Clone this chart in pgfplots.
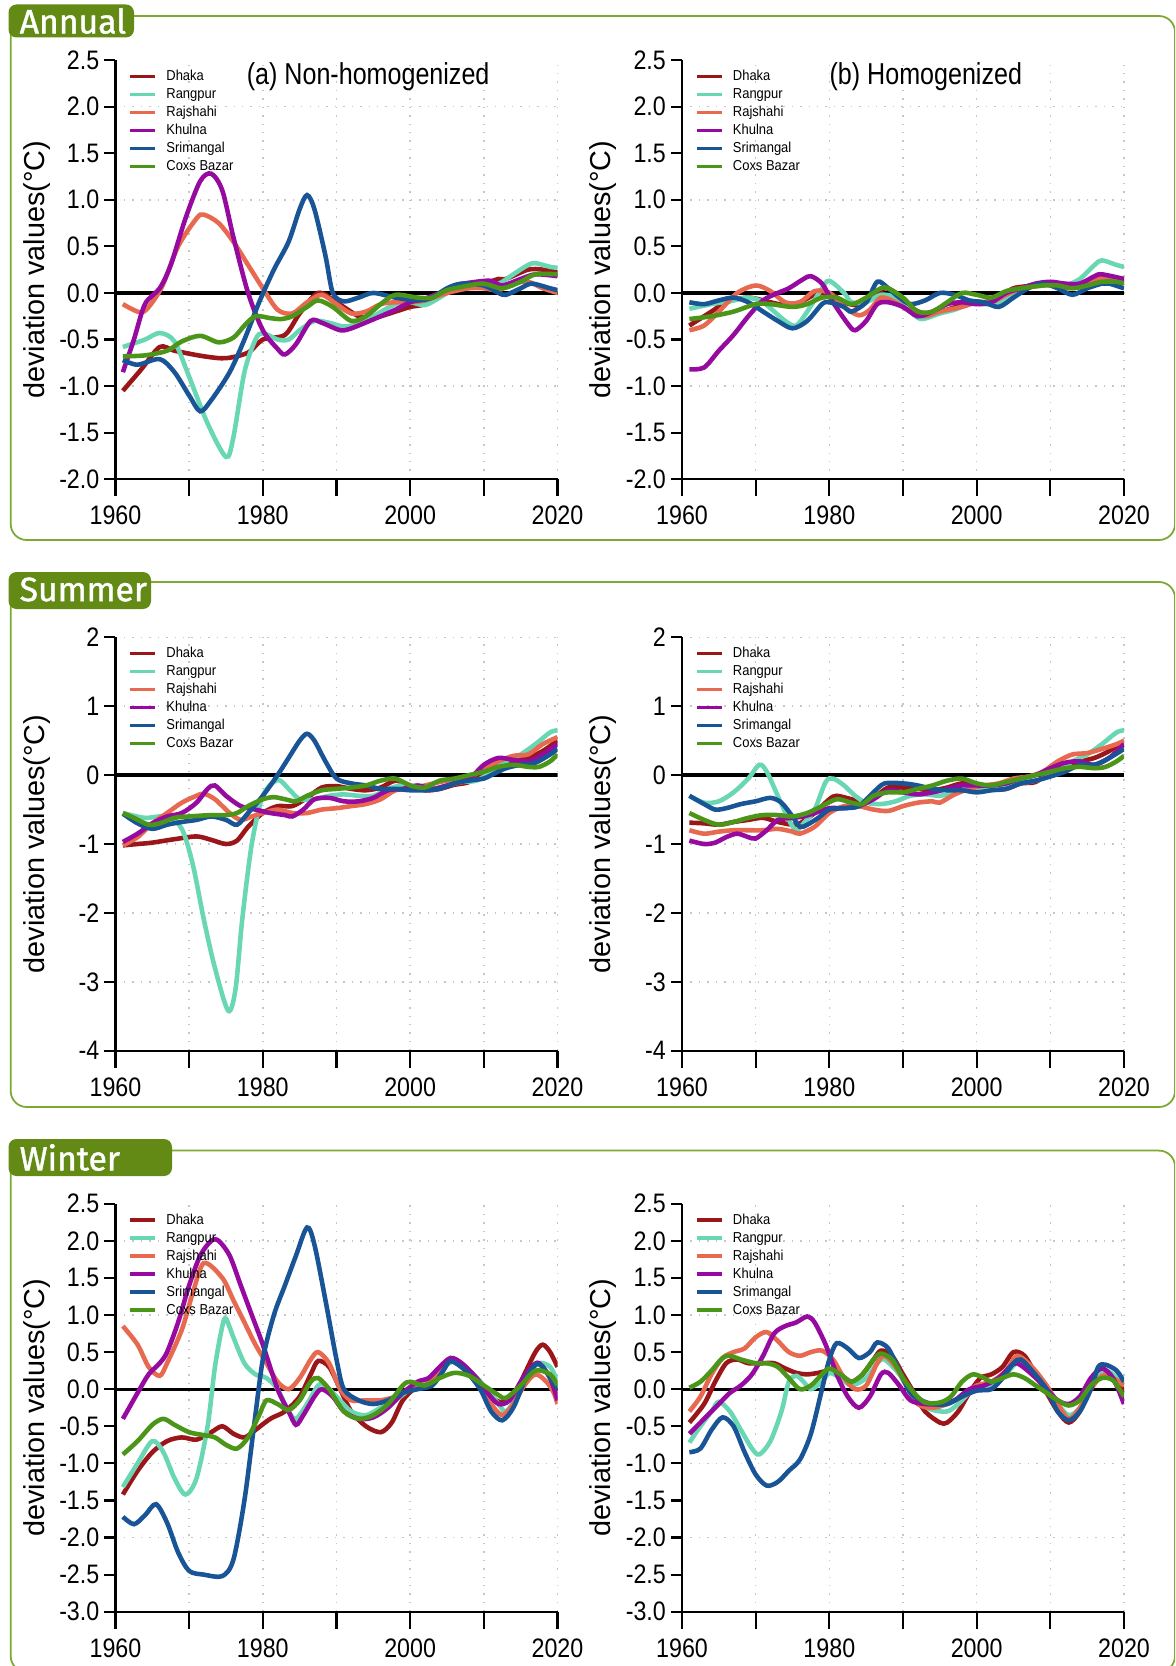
\documentclass[border=0pt]{standalone}
\usepackage{fontspec}
\setmainfont{Liberation Sans}
\newfontfamily\nar[FakeStretch=0.87]{Liberation Sans}
\newfontfamily\ttl[FakeStretch=0.83]{Liberation Sans}
\newfontfamily\leg[FakeStretch=0.9]{Liberation Sans}
\newfontfamily\tabfont[FakeBold=1.3]{Fira Sans}
\usepackage{pgfplots}
\pgfplotsset{compat=1.18}

\definecolor{dhaka}{RGB}{155,22,25}
\definecolor{rangpur}{RGB}{105,215,180}
\definecolor{rajshahi}{RGB}{230,105,80}
\definecolor{khulna}{RGB}{150,10,160}
\definecolor{srimangal}{RGB}{25,85,150}
\definecolor{coxs}{RGB}{75,150,25}
\definecolor{tabgreen}{RGB}{98,138,20}
\definecolor{framegreen}{RGB}{125,168,50}

\pgfplotsset{
  panel/.style={
    scale only axis, width=44.2mm,
    xmin=1960, xmax=2020,
    axis lines=left, axis line style={-, line width=0.6pt},
    tick align=outside, tick style={black, line width=0.6pt},
    xtick={1960,1970,...,2020}, xticklabels={1960,,1980,,2000,,2020},
    xtick style={/pgfplots/major tick length=1.7mm},
    ytick style={/pgfplots/major tick length=1.1mm},
    minor tick length=0pt,
    xmajorgrids,
    grid style={gray!45, dotted, line width=0.45pt},
    tick label style={font={\nar\fontsize{7.6}{8}\selectfont}},
    xticklabel style={inner sep=1.1mm},
    yticklabel style={inner sep=0.05mm},
    ylabel={deviation values(°C)},
    every axis y label/.style={at={(axis description cs:-0.178,0.5)}, rotate=90, anchor=center, font={\fontsize{8.2}{9}\selectfont}},
    legend style={at={(axis description cs:0.03,0.982)}, anchor=north west, draw=none, fill=none,
      inner sep=0pt, outer sep=0pt, row sep=0pt, font={\leg\fontsize{4.1}{4.5}\selectfont},
      nodes={inner sep=0.25mm, text height=1.05mm, text depth=0.25mm},
      /tikz/every odd column/.style={column sep=0.7mm}},
    legend cell align=left,
    legend image code/.code={\draw[#1, line width=0.9pt] (0mm,0mm) -- (2.5mm,0mm);},
    legend entries={Dhaka,Rangpur,Rajshahi,Khulna,Srimangal,Coxs Bazar},
    every axis plot/.append style={line width=1.3pt, smooth, mark=none},
  },
  pA/.style={panel, height=41.93mm, ymin=-2, ymax=2.5, ytick={-2,-1.5,...,2.5},
    yticklabels={-2.0,-1.5,-1.0,-0.5,0.0,0.5,1.0,1.5,2.0,2.5},
    minor ytick={-1,1,2}, yminorgrids},
  pS/.style={panel, height=41.34mm, ymin=-4, ymax=2, ytick={-4,-3,...,2},
    yticklabels={-4,-3,-2,-1,0,1,2}, ymajorgrids},
  pW/.style={panel, height=40.8mm, ymin=-3, ymax=2.5, ytick={-3,-2.5,...,2.5},
    yticklabels={-3.0,-2.5,-2.0,-1.5,-1.0,-0.5,0.0,0.5,1.0,1.5,2.0,2.5},
    minor ytick={-2,-1,1,2}, yminorgrids},
  zero/.style={black, line width=0.95pt, sharp plot, forget plot},
}

\begin{document}
\begin{tikzpicture}
\useasboundingbox (0,0) rectangle (117.5mm,-166.6mm);
\clip (0,0) rectangle (117.5mm,-166.6mm);

% section frames and tabs
\draw[framegreen, line width=0.5pt, rounded corners=1.6mm] (1.07mm,-1.6mm) rectangle (117.5mm,-54.0mm);
\draw[framegreen, line width=0.5pt, rounded corners=1.6mm] (1.07mm,-58.2mm) rectangle (117.5mm,-110.7mm);
\draw[framegreen, line width=0.5pt, rounded corners=1.6mm] (1.07mm,-115.06mm) rectangle (117.5mm,-167.2mm);
\fill[tabgreen, rounded corners=0.8mm] (0.85mm,-0.45mm) rectangle (13.4mm,-3.75mm);
\fill[tabgreen, rounded corners=0.8mm] (0.85mm,-57.2mm) rectangle (15.1mm,-60.9mm);
\fill[tabgreen, rounded corners=0.8mm] (0.85mm,-113.9mm) rectangle (17.2mm,-117.6mm);
\begin{scope}[every node/.style={anchor=west, inner sep=0pt, text=white, font={\tabfont\fontsize{9.6}{10}\selectfont}}]
\node at (1.9mm,-2.1mm) {Annual};
\node at (1.9mm,-58.95mm) {Summer};
\node at (1.9mm,-115.75mm) {Winter};
\end{scope}

% ---------------- Annual, non-homogenized
\begin{axis}[pA, at={(11.55mm,-47.93mm)}, anchor=south west]
\addplot[zero] coordinates {(1960,0)(2020,0)};
\addplot[dhaka] coordinates {(1961,-1.05)(1963.5,-0.82)(1966,-0.58)(1968,-0.62)(1972,-0.68)(1975,-0.70)(1978,-0.64)(1980,-0.5)(1983,-0.45)(1985,-0.22)(1987.5,0.0)(1990,-0.1)(1993,-0.25)(1995,-0.27)(1998,-0.2)(2000,-0.15)(2002,-0.12)(2005,0.0)(2007,0.06)(2010,0.1)(2012,0.15)(2013,0.15)(2016,0.25)(2018,0.25)(2020,0.22)};
\addplot[rangpur] coordinates {(1961,-0.58)(1964,-0.5)(1966,-0.43)(1968,-0.52)(1970,-0.9)(1972.5,-1.4)(1975,-1.76)(1976,-1.55)(1977.5,-0.85)(1979,-0.5)(1980,-0.43)(1982,-0.5)(1983.5,-0.5)(1985,-0.4)(1987,-0.3)(1989,-0.32)(1991,-0.36)(1993,-0.33)(1995,-0.25)(1998,-0.12)(2000,-0.1)(2002,-0.13)(2004,-0.05)(2006,0.05)(2008,0.1)(2010,0.1)(2012,0.1)(2014,0.2)(2016,0.3)(2017,0.32)(2019,0.28)(2020,0.27)};
\addplot[rajshahi] coordinates {(1961,-0.12)(1963.5,-0.21)(1965,-0.1)(1966.5,0.1)(1968.5,0.5)(1971,0.8)(1972,0.84)(1974,0.75)(1976,0.55)(1978,0.3)(1980,0.05)(1982,-0.18)(1984,-0.22)(1986,-0.1)(1988,-0.02)(1990,-0.12)(1992,-0.22)(1994,-0.2)(1996,-0.12)(1998,-0.1)(2000,-0.1)(2002,-0.08)(2005,0.0)(2008,0.05)(2010,0.05)(2012,0.03)(2014,0.1)(2016,0.12)(2018,0.05)(2020,0.0)};
\addplot[khulna] coordinates {(1961,-0.85)(1962.5,-0.5)(1964,-0.12)(1966,0.05)(1967.5,0.3)(1969.5,0.8)(1971.5,1.2)(1973,1.28)(1974.5,1.1)(1976,0.6)(1978,0.0)(1980,-0.4)(1982,-0.6)(1983,-0.66)(1984.5,-0.55)(1986.5,-0.3)(1988,-0.32)(1990.5,-0.4)(1992,-0.38)(1994.5,-0.3)(1996,-0.25)(1998,-0.18)(2000,-0.1)(2002,-0.06)(2004,0.0)(2006,0.08)(2009,0.12)(2011,0.13)(2012.5,0.08)(2015,0.15)(2017,0.2)(2020,0.18)};
\addplot[srimangal] coordinates {(1961,-0.72)(1963,-0.77)(1966,-0.71)(1968,-0.85)(1970,-1.1)(1971.5,-1.27)(1973,-1.15)(1975.5,-0.85)(1977.5,-0.5)(1979.5,-0.1)(1981.5,0.25)(1983.5,0.55)(1985,0.9)(1986,1.05)(1987,0.9)(1988.5,0.4)(1989.5,0.0)(1991,-0.09)(1993,-0.05)(1995,0.0)(1998,-0.05)(2001,-0.08)(2003,-0.05)(2005,0.05)(2007,0.1)(2010,0.08)(2012,0.0)(2013,-0.02)(2015,0.05)(2016.5,0.1)(2019,0.05)(2020,0.03)};
\addplot[coxs] coordinates {(1961,-0.68)(1964,-0.67)(1967,-0.62)(1969,-0.52)(1971.5,-0.46)(1974,-0.53)(1976,-0.48)(1977.5,-0.35)(1979,-0.25)(1981,-0.27)(1982.5,-0.28)(1984,-0.25)(1986,-0.15)(1987.5,-0.08)(1989.5,-0.15)(1992,-0.3)(1994,-0.25)(1996,-0.12)(1998,-0.02)(2001,-0.05)(2003,-0.05)(2005,0.03)(2008,0.08)(2010,0.1)(2012.5,0.05)(2015,0.12)(2017,0.2)(2020,0.2)};
\node[font={\ttl\fontsize{8.6}{9}\selectfont}, anchor=center] at (axis cs:1994.3,2.32) {(a) Non-homogenized};
\end{axis}

% ---------------- Annual, homogenized
\begin{axis}[pA, at={(68.2mm,-47.93mm)}, anchor=south west]
\addplot[zero] coordinates {(1960,0)(2020,0)};
\addplot[dhaka] coordinates {(1961,-0.35)(1964,-0.2)(1966,-0.1)(1969,-0.05)(1972,-0.1)(1974,-0.13)(1976,-0.1)(1978,-0.02)(1980,0.0)(1982,-0.1)(1984,-0.13)(1986,-0.05)(1987.5,0.05)(1989,0.0)(1991,-0.15)(1993,-0.22)(1996,-0.18)(1999,-0.1)(2001,-0.1)(2003,-0.05)(2005,0.05)(2008,0.08)(2010,0.1)(2012,0.05)(2014,0.1)(2016,0.15)(2018,0.15)(2020,0.12)};
\addplot[rangpur] coordinates {(1961,-0.17)(1964,-0.12)(1967,-0.08)(1969,-0.05)(1971,-0.1)(1974,-0.3)(1975.5,-0.35)(1977,-0.2)(1979,0.05)(1980,0.13)(1982,0.0)(1983,-0.1)(1985,-0.1)(1987,-0.02)(1989,-0.05)(1991,-0.2)(1992.5,-0.28)(1995,-0.22)(1997,-0.18)(1999,-0.12)(2001,-0.12)(2003,-0.12)(2005,0.0)(2008,0.1)(2010,0.1)(2012,0.08)(2014,0.15)(2016,0.3)(2017,0.35)(2019,0.3)(2020,0.28)};
\addplot[rajshahi] coordinates {(1961,-0.4)(1963,-0.35)(1965,-0.2)(1967.5,0.0)(1970,0.08)(1972,0.02)(1974,-0.1)(1976,-0.1)(1978,0.02)(1980,0.0)(1982,-0.15)(1984,-0.24)(1985.5,-0.18)(1987,-0.05)(1989,-0.1)(1991,-0.2)(1993,-0.25)(1995,-0.2)(1998,-0.15)(2000,-0.1)(2002,-0.1)(2004,-0.02)(2006,0.05)(2009,0.08)(2011,0.1)(2012.5,0.05)(2014,0.1)(2016,0.15)(2018,0.15)(2020,0.15)};
\addplot[khulna] coordinates {(1961,-0.82)(1963,-0.8)(1965,-0.62)(1967,-0.45)(1969,-0.25)(1971,-0.08)(1973,0.0)(1974.5,0.05)(1976.5,0.15)(1977.5,0.18)(1979,0.1)(1980.5,-0.1)(1982.5,-0.33)(1983.5,-0.4)(1985,-0.3)(1986.5,-0.12)(1988,-0.1)(1990,-0.15)(1992,-0.25)(1994,-0.2)(1996,-0.12)(1998,-0.1)(2000,-0.12)(2002,-0.1)(2004,0.0)(2006,0.05)(2008,0.1)(2010,0.12)(2012,0.1)(2014,0.1)(2016,0.18)(2017,0.2)(2020,0.15)};
\addplot[srimangal] coordinates {(1961,-0.1)(1963,-0.12)(1965,-0.08)(1967,-0.05)(1969,-0.1)(1971,-0.2)(1973,-0.3)(1975,-0.38)(1977,-0.3)(1979,-0.12)(1980,-0.1)(1982,-0.15)(1983,-0.2)(1985,-0.1)(1986.5,0.12)(1988,0.05)(1989.5,-0.05)(1991,-0.12)(1993,-0.08)(1995,0.0)(1997,-0.02)(1999,-0.08)(2001,-0.1)(2003,-0.15)(2005,-0.05)(2007,0.05)(2009,0.1)(2011,0.05)(2013,-0.02)(2015,0.05)(2017,0.1)(2018,0.1)(2020,0.05)};
\addplot[coxs] coordinates {(1961,-0.28)(1964,-0.25)(1967,-0.2)(1970,-0.12)(1972,-0.12)(1975,-0.15)(1977,-0.12)(1979,-0.05)(1981,-0.05)(1983,-0.12)(1985,-0.05)(1987,0.05)(1988,0.05)(1990,-0.05)(1992,-0.2)(1994,-0.2)(1996,-0.1)(1998,0.0)(2000,-0.02)(2002,-0.05)(2004,0.02)(2006,0.05)(2009,0.08)(2011,0.08)(2013,0.05)(2015,0.08)(2017,0.12)(2019,0.12)(2020,0.1)};
\node[font={\ttl\fontsize{8.6}{9}\selectfont}, anchor=center] at (axis cs:1993.1,2.32) {(b) Homogenized};
\end{axis}

% ---------------- Summer, non-homogenized
\begin{axis}[pS, at={(11.55mm,-105.07mm)}, anchor=south west]
\addplot[zero] coordinates {(1960,0)(2020,0)};
\addplot[dhaka] coordinates {(1961,-1.02)(1963,-1.0)(1965,-0.98)(1968,-0.93)(1971,-0.89)(1973,-0.94)(1975,-1.0)(1976.5,-0.95)(1978,-0.75)(1980,-0.55)(1982,-0.45)(1984,-0.45)(1986,-0.33)(1988,-0.18)(1990,-0.16)(1992,-0.2)(1994,-0.22)(1996,-0.18)(1998,-0.08)(2000,-0.15)(2002,-0.22)(2004,-0.2)(2006,-0.14)(2008,-0.1)(2010,0.05)(2012,0.15)(2014,0.2)(2016,0.25)(2018,0.35)(2020,0.5)};
\addplot[rangpur] coordinates {(1961,-0.55)(1964,-0.62)(1967,-0.6)(1969,-0.78)(1970.5,-1.3)(1972,-2.1)(1973.5,-2.8)(1975.3,-3.42)(1976.3,-3.1)(1977.2,-2.1)(1978.5,-1.0)(1980,-0.3)(1982,-0.07)(1983.5,-0.2)(1985,-0.35)(1987,-0.35)(1989,-0.3)(1991,-0.28)(1993,-0.3)(1995,-0.3)(1997,-0.2)(1999,-0.15)(2001,-0.2)(2003,-0.2)(2005,-0.15)(2007,-0.1)(2009,-0.08)(2011,0.05)(2013,0.2)(2015,0.3)(2017,0.45)(2019,0.62)(2020,0.65)};
\addplot[rajshahi] coordinates {(1961,-1.02)(1963,-0.9)(1965,-0.7)(1967,-0.55)(1969,-0.4)(1971,-0.3)(1972,-0.27)(1973.5,-0.35)(1975.5,-0.55)(1977,-0.65)(1978.5,-0.6)(1980,-0.55)(1982,-0.5)(1984,-0.55)(1986,-0.55)(1988,-0.5)(1990,-0.48)(1992,-0.45)(1994,-0.42)(1996,-0.35)(1998,-0.22)(2000,-0.2)(2002,-0.15)(2004,-0.1)(2006,-0.06)(2008,-0.04)(2010,0.1)(2012,0.2)(2014,0.28)(2016,0.3)(2018,0.45)(2020,0.55)};
\addplot[khulna] coordinates {(1961,-0.97)(1963,-0.85)(1965,-0.7)(1967,-0.6)(1969,-0.55)(1971,-0.4)(1972.5,-0.2)(1973.5,-0.15)(1975,-0.3)(1977,-0.45)(1979,-0.5)(1981,-0.55)(1983,-0.58)(1984,-0.6)(1985.5,-0.5)(1987,-0.35)(1989,-0.33)(1991,-0.38)(1993,-0.38)(1995,-0.33)(1997,-0.22)(1999,-0.2)(2001,-0.15)(2003,-0.2)(2005,-0.15)(2008,-0.05)(2010,0.15)(2012,0.25)(2014,0.22)(2016,0.2)(2018,0.3)(2020,0.45)};
\addplot[srimangal] coordinates {(1961,-0.56)(1963,-0.7)(1965,-0.78)(1967,-0.72)(1969,-0.68)(1971,-0.65)(1973,-0.6)(1975,-0.65)(1976.5,-0.72)(1978,-0.55)(1980,-0.3)(1982,0.0)(1983.5,0.25)(1985,0.5)(1986,0.6)(1987,0.5)(1988.5,0.2)(1990,-0.05)(1992,-0.12)(1994,-0.15)(1996,-0.2)(1998,-0.2)(2000,-0.22)(2002,-0.22)(2004,-0.2)(2006,-0.12)(2008,-0.08)(2010,-0.05)(2011,0.0)(2013,0.1)(2015,0.15)(2017,0.18)(2019,0.3)(2020,0.38)};
\addplot[coxs] coordinates {(1961,-0.55)(1962.5,-0.62)(1964.5,-0.72)(1966,-0.7)(1968,-0.62)(1970,-0.6)(1973,-0.58)(1975,-0.58)(1976.5,-0.55)(1978,-0.45)(1980,-0.35)(1981.5,-0.32)(1983,-0.35)(1984.5,-0.38)(1986,-0.3)(1988,-0.22)(1990,-0.2)(1992,-0.18)(1994,-0.15)(1996,-0.08)(1998,-0.05)(2000,-0.15)(2002,-0.18)(2004,-0.08)(2006,-0.05)(2008,0.0)(2010,0.05)(2012,0.12)(2014,0.15)(2016,0.12)(2017.5,0.12)(2019,0.2)(2020,0.3)};
\end{axis}

% ---------------- Summer, homogenized
\begin{axis}[pS, at={(68.2mm,-105.07mm)}, anchor=south west]
\addplot[zero] coordinates {(1960,0)(2020,0)};
\addplot[dhaka] coordinates {(1961,-0.69)(1963,-0.7)(1965,-0.72)(1967,-0.68)(1969,-0.65)(1971,-0.62)(1973,-0.68)(1975,-0.72)(1976,-0.7)(1978,-0.55)(1980,-0.35)(1981,-0.3)(1983,-0.35)(1985,-0.4)(1987,-0.25)(1988,-0.18)(1990,-0.18)(1992,-0.2)(1994,-0.22)(1996,-0.18)(1998,-0.12)(2000,-0.15)(2002,-0.2)(2004,-0.2)(2006,-0.12)(2008,-0.1)(2010,0.05)(2012,0.15)(2014,0.2)(2016,0.25)(2018,0.35)(2020,0.5)};
\addplot[rangpur] coordinates {(1961,-0.3)(1963,-0.4)(1965,-0.38)(1967,-0.25)(1969,-0.05)(1970.5,0.15)(1971.5,0.05)(1973,-0.3)(1974.5,-0.65)(1975.5,-0.8)(1976.5,-0.7)(1978,-0.5)(1979.5,-0.1)(1980.5,-0.05)(1982,-0.15)(1983.5,-0.3)(1985,-0.4)(1987,-0.42)(1989,-0.38)(1991,-0.3)(1993,-0.28)(1995,-0.3)(1997,-0.25)(1999,-0.2)(2001,-0.2)(2003,-0.15)(2005,-0.12)(2007,-0.1)(2009,-0.05)(2011,0.05)(2013,0.2)(2015,0.3)(2017,0.45)(2019,0.62)(2020,0.65)};
\addplot[rajshahi] coordinates {(1961,-0.8)(1963,-0.85)(1965,-0.82)(1967,-0.8)(1969,-0.8)(1971,-0.8)(1973,-0.78)(1975,-0.82)(1976,-0.85)(1978,-0.75)(1980,-0.55)(1982,-0.45)(1984,-0.45)(1986,-0.5)(1988,-0.52)(1990,-0.45)(1992,-0.4)(1994,-0.38)(1995,-0.4)(1997,-0.28)(1999,-0.2)(2001,-0.15)(2003,-0.12)(2005,-0.05)(2007,-0.02)(2009,0.05)(2011,0.2)(2013,0.3)(2015,0.32)(2017,0.38)(2019,0.45)(2020,0.5)};
\addplot[khulna] coordinates {(1961,-0.95)(1963,-1.0)(1964.5,-0.98)(1966,-0.9)(1967.5,-0.85)(1969,-0.9)(1970,-0.92)(1971.5,-0.8)(1973,-0.65)(1975,-0.62)(1976.5,-0.6)(1978,-0.55)(1980,-0.48)(1982,-0.48)(1984,-0.45)(1986,-0.35)(1988,-0.22)(1990,-0.25)(1992,-0.28)(1994,-0.25)(1996,-0.2)(1998,-0.15)(2000,-0.15)(2002,-0.15)(2004,-0.12)(2006,-0.05)(2008,0.0)(2010,0.1)(2012,0.18)(2014,0.2)(2016,0.15)(2018,0.25)(2020,0.45)};
\addplot[srimangal] coordinates {(1961,-0.3)(1963,-0.42)(1964.5,-0.5)(1966,-0.48)(1968,-0.42)(1970,-0.38)(1972,-0.33)(1973.5,-0.4)(1975,-0.6)(1976,-0.75)(1977,-0.72)(1978.5,-0.62)(1980,-0.5)(1982,-0.48)(1984,-0.45)(1986,-0.25)(1987.5,-0.12)(1990,-0.12)(1992,-0.15)(1994,-0.2)(1996,-0.22)(1998,-0.22)(2000,-0.25)(2002,-0.22)(2004,-0.2)(2006,-0.12)(2008,-0.08)(2010,-0.02)(2012,0.05)(2014,0.15)(2016,0.15)(2018,0.25)(2020,0.38)};
\addplot[coxs] coordinates {(1961,-0.55)(1963,-0.65)(1965,-0.72)(1967,-0.68)(1969,-0.62)(1971,-0.58)(1973,-0.58)(1975,-0.6)(1977,-0.55)(1979,-0.45)(1981,-0.35)(1983,-0.4)(1984.5,-0.42)(1986,-0.3)(1988,-0.25)(1990,-0.25)(1992,-0.2)(1994,-0.15)(1996,-0.08)(1998,-0.05)(2000,-0.12)(2002,-0.15)(2004,-0.1)(2006,-0.05)(2008,0.0)(2010,0.05)(2012,0.1)(2014,0.12)(2016,0.1)(2017.5,0.12)(2019,0.2)(2020,0.28)};
\end{axis}

% ---------------- Winter, non-homogenized
\begin{axis}[pW, at={(11.55mm,-161.17mm)}, anchor=south west]
\addplot[zero] coordinates {(1960,0)(2020,0)};
\addplot[dhaka] coordinates {(1961,-1.42)(1963,-1.1)(1965,-0.85)(1967,-0.7)(1969,-0.65)(1971,-0.68)(1973,-0.58)(1974.5,-0.5)(1976,-0.6)(1977.5,-0.65)(1979,-0.55)(1981,-0.4)(1983,-0.3)(1985,-0.1)(1986.5,0.2)(1987.5,0.38)(1989,0.3)(1990.5,0.0)(1992,-0.3)(1994,-0.5)(1996,-0.58)(1997.5,-0.45)(1999,-0.15)(2001,0.05)(2002,0.1)(2003,0.15)(2004.5,0.3)(2006,0.38)(2007.5,0.3)(2009.5,0.1)(2011,-0.1)(2012.5,-0.18)(2014,-0.1)(2015.5,0.2)(2017,0.5)(2018,0.6)(2019,0.5)(2020,0.3)};
\addplot[rangpur] coordinates {(1961,-1.32)(1963,-1.0)(1965,-0.7)(1966.5,-0.85)(1968,-1.2)(1969.5,-1.42)(1971,-1.2)(1972.5,-0.5)(1973.5,0.3)(1974.5,0.85)(1975,0.95)(1976,0.7)(1977.5,0.35)(1979,0.2)(1980.5,0.15)(1982,0.0)(1983.5,-0.3)(1984.5,-0.4)(1986,-0.2)(1987.5,0.05)(1988.5,0.05)(1990,-0.1)(1992,-0.3)(1994,-0.35)(1996,-0.25)(1998,-0.15)(2000,0.0)(2002,0.1)(2004,0.25)(2006,0.38)(2008,0.25)(2010,0.05)(2012,-0.2)(2013,-0.3)(2014.5,-0.1)(2016,0.2)(2017.5,0.35)(2019,0.3)(2020,0.1)};
\addplot[rajshahi] coordinates {(1961,0.85)(1963,0.6)(1964.5,0.3)(1966,0.18)(1967,0.35)(1969,0.8)(1970.5,1.3)(1972,1.7)(1974.5,1.5)(1976,1.2)(1977.5,0.9)(1979,0.6)(1980.5,0.35)(1982,0.1)(1983.5,0.0)(1985,0.15)(1986.5,0.4)(1987.5,0.5)(1989,0.35)(1990.5,0.0)(1992,-0.15)(1994,-0.15)(1996,-0.15)(1998,-0.1)(2000,0.0)(2002,0.05)(2004,0.25)(2005.5,0.42)(2007.5,0.3)(2009.5,0.05)(2011,-0.2)(2012.5,-0.35)(2014,-0.2)(2015.5,0.05)(2017,0.2)(2018.5,0.1)(2019.5,-0.05)(2020,-0.2)};
\addplot[khulna] coordinates {(1961,-0.4)(1963,-0.05)(1964.5,0.2)(1966,0.35)(1967,0.5)(1968.5,0.9)(1970,1.4)(1971.5,1.8)(1973,2.0)(1974,2.0)(1975.5,1.8)(1977,1.4)(1978.5,1.0)(1980,0.6)(1982,0.0)(1983.5,-0.3)(1984.5,-0.48)(1985.5,-0.35)(1987,-0.1)(1988,0.0)(1989.5,-0.1)(1991,-0.3)(1993,-0.4)(1995,-0.38)(1997,-0.25)(1999,-0.05)(2001,0.1)(2002.5,0.15)(2004,0.3)(2005.5,0.42)(2007,0.35)(2009,0.15)(2010.5,-0.05)(2012,-0.2)(2013.5,-0.15)(2015,0.1)(2016.5,0.3)(2017.5,0.35)(2019,0.15)(2020,-0.15)};
\addplot[srimangal] coordinates {(1961,-1.72)(1962.5,-1.82)(1964,-1.7)(1965.5,-1.55)(1967,-1.8)(1968.5,-2.2)(1970,-2.45)(1972,-2.5)(1974.5,-2.52)(1976,-2.3)(1977.5,-1.5)(1978.8,-0.5)(1980,0.4)(1981.5,1.0)(1983,1.4)(1984.5,1.8)(1986,2.18)(1987,1.95)(1988.5,1.2)(1990,0.4)(1991,0.0)(1993,-0.15)(1995,-0.2)(1997,-0.15)(1999,-0.05)(2001,0.0)(2003,0.05)(2004.5,0.25)(2005.5,0.38)(2007.5,0.25)(2009.5,0.0)(2011,-0.3)(2012.5,-0.42)(2014,-0.25)(2015.5,0.1)(2017,0.33)(2018,0.3)(2019,0.15)(2020,0.0)};
\addplot[coxs] coordinates {(1961,-0.88)(1963,-0.7)(1965,-0.48)(1966.5,-0.4)(1968,-0.48)(1970,-0.58)(1972,-0.62)(1973.5,-0.65)(1975,-0.75)(1976.5,-0.8)(1978,-0.65)(1979.5,-0.35)(1980.5,-0.15)(1982,-0.2)(1983.5,-0.28)(1985,-0.15)(1986.5,0.1)(1987.5,0.15)(1989,0.0)(1991,-0.3)(1993,-0.4)(1995,-0.35)(1997,-0.2)(1999,0.05)(2000,0.1)(2002,0.05)(2004,0.15)(2006,0.22)(2008,0.18)(2010,0.05)(2012,-0.08)(2013,-0.12)(2015,0.05)(2017,0.25)(2019,0.2)(2020,0.05)};
\end{axis}

% ---------------- Winter, homogenized
\begin{axis}[pW, at={(68.2mm,-161.17mm)}, anchor=south west]
\addplot[zero] coordinates {(1960,0)(2020,0)};
\addplot[dhaka] coordinates {(1961,-0.45)(1963,-0.2)(1964.5,0.1)(1966,0.35)(1967.5,0.4)(1969,0.35)(1971,0.35)(1972.5,0.35)(1974,0.28)(1975.5,0.22)(1977,0.2)(1978.5,0.22)(1980,0.25)(1981.5,0.2)(1983,0.1)(1984.5,0.2)(1986,0.4)(1987,0.52)(1988.5,0.45)(1990,0.2)(1991.5,-0.05)(1993,-0.3)(1995,-0.45)(1996,-0.45)(1997.5,-0.3)(1999,-0.05)(2000.5,0.15)(2002,0.2)(2003.5,0.3)(2005,0.5)(2006.5,0.45)(2008,0.2)(2009.5,-0.05)(2011,-0.3)(2012.5,-0.45)(2014,-0.3)(2015.5,0.05)(2017,0.25)(2018.5,0.18)(2019.5,0.05)(2020,-0.05)};
\addplot[rangpur] coordinates {(1961,-0.72)(1962.5,-0.5)(1964,-0.3)(1965,-0.17)(1966.5,-0.3)(1968,-0.55)(1969.5,-0.8)(1970.5,-0.88)(1972,-0.7)(1973.5,-0.3)(1974.5,0.1)(1975.5,0.18)(1976.5,0.1)(1977.5,0.0)(1979,0.1)(1980,0.22)(1981.5,0.15)(1983,0.05)(1985,0.15)(1986.5,0.35)(1987.5,0.4)(1989.5,0.2)(1991,-0.05)(1992.5,-0.2)(1994,-0.28)(1996,-0.3)(1997.5,-0.2)(1999.5,0.0)(2001,0.05)(2002.5,0.05)(2004,0.2)(2005.5,0.35)(2007.5,0.25)(2009.5,0.0)(2011,-0.2)(2012.5,-0.35)(2014,-0.25)(2015.5,0.05)(2017,0.25)(2018.5,0.2)(2020,0.05)};
\addplot[rajshahi] coordinates {(1961,-0.3)(1962.5,-0.1)(1964,0.2)(1965.5,0.42)(1967,0.5)(1968.5,0.55)(1970,0.7)(1971.5,0.77)(1973,0.65)(1974.5,0.5)(1976,0.45)(1977.5,0.5)(1979,0.52)(1980.5,0.4)(1982,0.15)(1983.5,0.0)(1985,0.05)(1986.5,0.35)(1987.5,0.45)(1989,0.3)(1990.5,0.05)(1992,-0.2)(1994,-0.25)(1996,-0.2)(1998,-0.1)(2000,0.05)(2002,0.1)(2004,0.25)(2005.5,0.45)(2007.5,0.3)(2009.5,0.05)(2011,-0.2)(2012.5,-0.4)(2014,-0.25)(2015.5,0.0)(2017,0.18)(2018.5,0.15)(2020,0.05)};
\addplot[khulna] coordinates {(1961,-0.6)(1963,-0.4)(1965,-0.2)(1966.5,-0.05)(1968,0.05)(1969.5,0.2)(1971,0.45)(1972.5,0.75)(1974,0.85)(1975.5,0.9)(1977,0.98)(1978,0.9)(1979.5,0.6)(1981,0.2)(1982.5,-0.1)(1984,-0.25)(1985.5,-0.1)(1987,0.2)(1988,0.22)(1989.5,0.05)(1991,-0.15)(1993,-0.2)(1995,-0.2)(1997,-0.15)(1999,0.0)(2001,0.05)(2003,0.15)(2004.5,0.3)(2005.5,0.35)(2007.5,0.2)(2009.5,0.0)(2011,-0.15)(2012.5,-0.2)(2014,-0.1)(2015.5,0.15)(2017,0.28)(2018.5,0.15)(2020,-0.2)};
\addplot[srimangal] coordinates {(1961,-0.85)(1962.5,-0.8)(1964,-0.55)(1965.5,-0.38)(1967,-0.5)(1968.5,-0.85)(1970,-1.15)(1971.5,-1.3)(1973,-1.25)(1974.5,-1.1)(1976,-0.95)(1977.5,-0.6)(1979,0.0)(1980,0.4)(1981,0.62)(1982.5,0.55)(1984,0.42)(1985.5,0.5)(1986.5,0.63)(1988,0.55)(1989.5,0.25)(1991,-0.05)(1992.5,-0.15)(1994,-0.2)(1996,-0.2)(1998,-0.1)(2000,-0.02)(2002,0.0)(2003.5,0.15)(2005,0.35)(2006,0.4)(2007.5,0.25)(2009.5,0.0)(2011,-0.3)(2012.5,-0.42)(2014,-0.3)(2015.5,0.0)(2016.5,0.3)(2017.5,0.33)(2019,0.25)(2020,0.1)};
\addplot[coxs] coordinates {(1961,0.02)(1962.5,0.1)(1964,0.25)(1965.5,0.42)(1966.5,0.45)(1968,0.4)(1970,0.35)(1971.5,0.35)(1973,0.3)(1974.5,0.15)(1976,0.0)(1977.5,0.05)(1979,0.2)(1980,0.28)(1981.5,0.2)(1983,0.1)(1984.5,0.2)(1986,0.4)(1987,0.48)(1988.5,0.4)(1990,0.15)(1991.5,-0.05)(1993,-0.18)(1995,-0.18)(1996.5,-0.1)(1998,0.1)(1999.5,0.2)(2001,0.15)(2002,0.1)(2003.5,0.15)(2005,0.2)(2006.5,0.15)(2008,0.05)(2009.5,-0.05)(2011,-0.15)(2012.5,-0.22)(2014,-0.15)(2015.5,0.05)(2017,0.15)(2018.5,0.12)(2020,-0.1)};
\end{axis}
\end{tikzpicture}
\end{document}
